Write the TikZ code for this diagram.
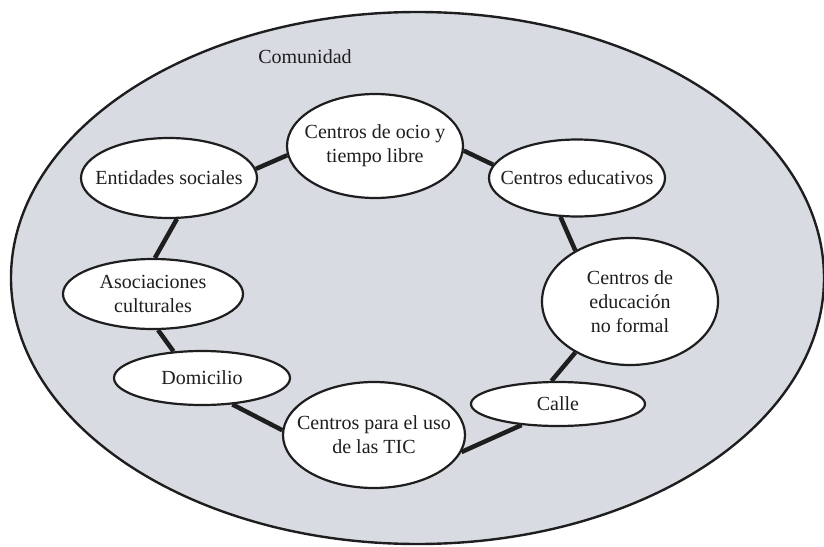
\documentclass[tikz,border=0pt]{standalone}
\usepackage{fontspec}
\setmainfont{Liberation Serif}
\usetikzlibrary{shapes.geometric}
\pgfdeclarelayer{bg}
\pgfdeclarelayer{conn}
\pgfsetlayers{bg,conn,main}
\definecolor{comfill}{RGB}{217,219,227}
\definecolor{ink}{RGB}{30,30,30}
\begin{document}
\begin{tikzpicture}[x=1pt,y=-1pt,
  txt/.style={align=center, text=ink, font=\fontsize{20}{24}\selectfont, inner sep=0pt},
  place/.style={ellipse, draw=ink, line width=2.2pt, fill=white, inner sep=0pt},
  link/.style={draw=ink, line width=4.5pt}]
\useasboundingbox (0,0) rectangle (824,546);
\begin{pgfonlayer}{bg}
\node[ellipse, draw=ink, line width=2.4pt, fill=comfill, inner sep=0pt,
      minimum width=813pt, minimum height=532pt] (com) at (417.5,278) {};
\end{pgfonlayer}
\node[txt, anchor=base] (comlabel) at (305,63) {Comunidad};
\node[place, minimum width=176pt, minimum height=104pt,
      label={[txt]center:{Centros de ocio y\\tiempo libre}}] (ocio) at (375,146) {};
\node[place, minimum width=176pt, minimum height=80pt,
      label={[txt]center:{Entidades sociales}}] (ent) at (169,178) {};
\node[place, minimum width=176pt, minimum height=77pt,
      label={[txt]center:{Centros educativos}}] (edu) at (577,178) {};
\node[place, minimum width=176pt, minimum height=127pt,
      label={[txt]center:{Centros de\\educación\\no formal}}] (nof) at (630,301.5) {};
\node[place, minimum width=174pt, minimum height=44pt,
      label={[txt]center:{Calle}}] (calle) at (558,404) {};
\node[place, minimum width=182pt, minimum height=106pt,
      label={[txt]center:{Centros para el uso\\de las TIC}}] (tic) at (374,435) {};
\node[place, minimum width=176pt, minimum height=54pt,
      label={[txt]center:{Domicilio}}] (dom) at (202,378) {};
\node[place, minimum width=180pt, minimum height=70pt,
      label={[txt]center:{Asociaciones\\culturales}}] (aso) at (153,294) {};
\begin{pgfonlayer}{conn}
\draw[link] (ent.6.5) -- (ocio.186);
\draw[link] (ent.281) -- (aso.87);
\draw[link] (aso.278) -- (dom.137);
\draw[link] (dom.319) -- (tic.177);
\draw[link] (tic.349) -- (calle.210);
\draw[link] (calle.106) -- (nof.223);
\draw[link] (nof.137) -- (edu.247);
\draw[link] (edu.171) -- (ocio.357);
\end{pgfonlayer}
\end{tikzpicture}
\end{document}
